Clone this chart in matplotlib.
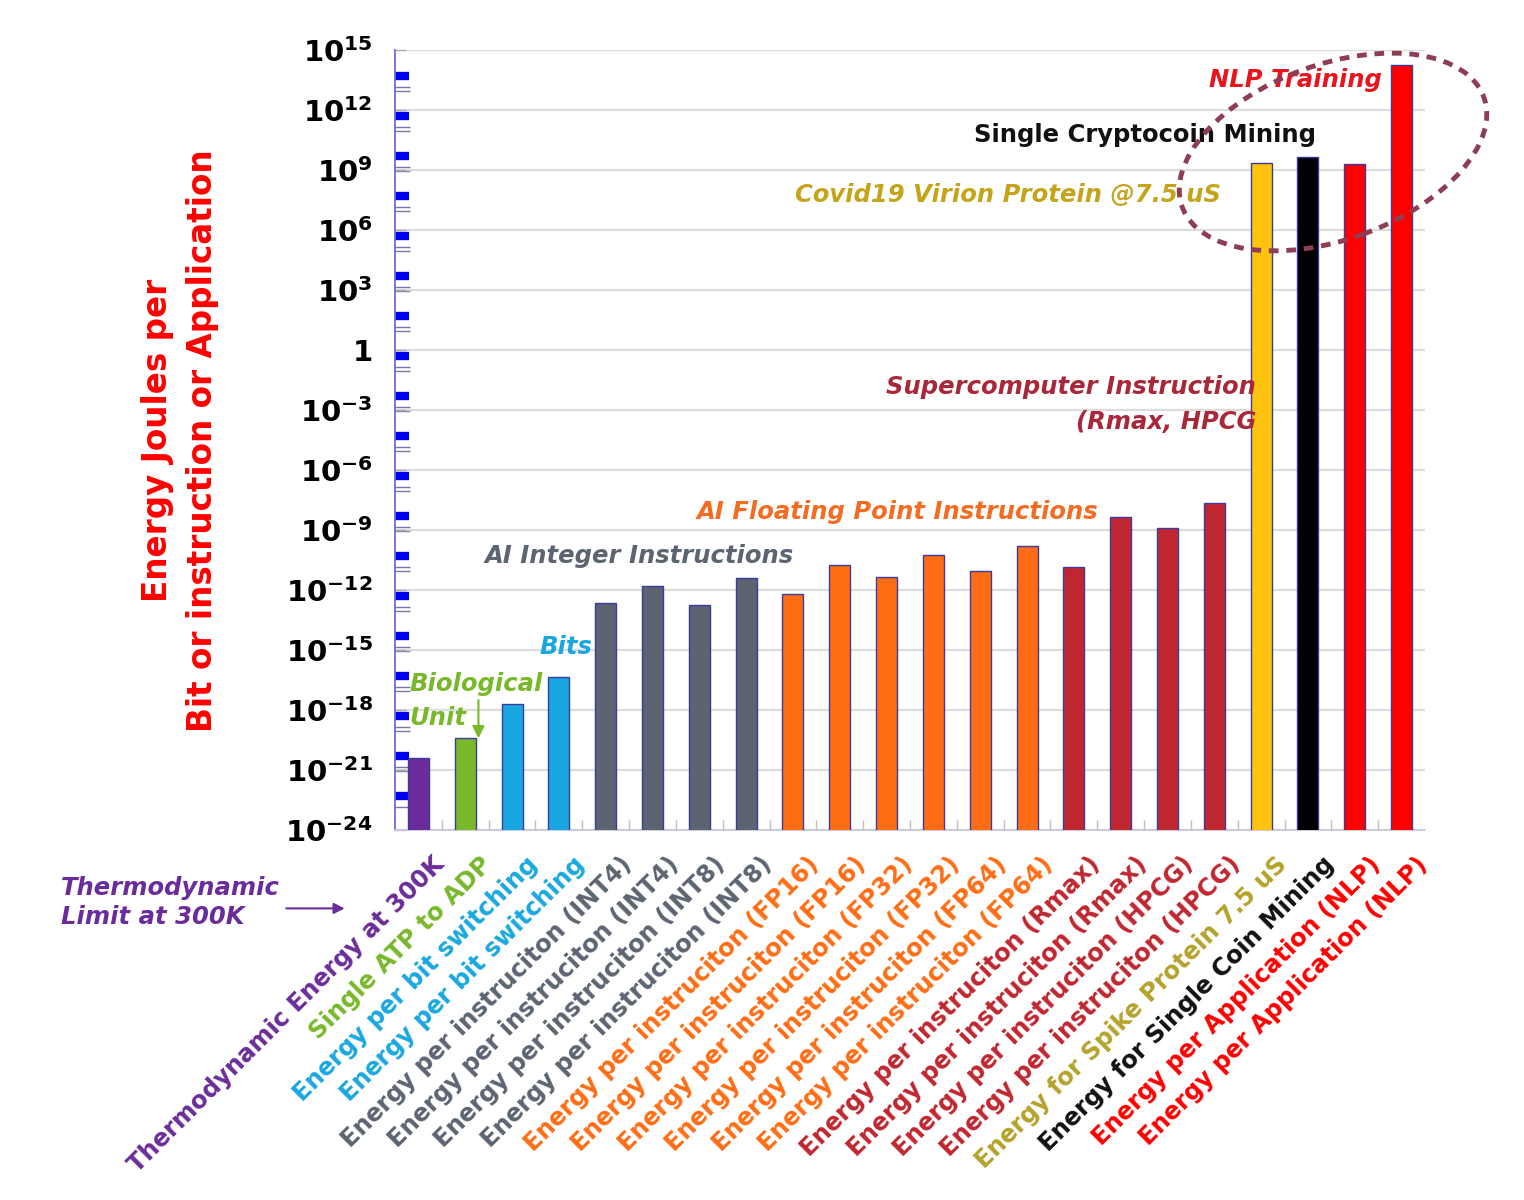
import matplotlib

matplotlib.use("Agg")

import matplotlib.pyplot as plt
import numpy as np
from matplotlib.patches import Ellipse, FancyArrowPatch
from matplotlib.transforms import ScaledTranslation

plt.rcParams["font.family"] = ["DejaVu Sans"]
plt.rcParams["mathtext.fontset"] = "dejavusans"

# bar data (Joules)
labels = [
    "Thermodynamic Energy at 300K",
    "Single ATP to ADP",
    "Energy per bit switching",
    "Energy per bit switching",
    "Energy per instruciton (INT4)",
    "Energy per instruciton (INT4)",
    "Energy per instruciton (INT8)",
    "Energy per instruciton (INT8)",
    "Energy per instruciton (FP16)",
    "Energy per instruciton (FP16)",
    "Energy per instruciton (FP32)",
    "Energy per instruciton (FP32)",
    "Energy per instruciton (FP64)",
    "Energy per instruciton (FP64)",
    "Energy per instruciton (Rmax)",
    "Energy per instruciton (Rmax)",
    "Energy per instruciton (HPCG)",
    "Energy per instruciton (HPCG)",
    "Energy for Spike Protein 7.5 uS",
    "Energy for Single Coin Mining",
    "Energy per Application (NLP)",
    "Energy per Application (NLP)",
]
energy = [
    4e-21, 4e-20, 2e-18, 4.5e-17,
    2.2e-13, 1.6e-12, 1.8e-13, 4e-12,
    6.3e-13, 1.8e-11, 4.5e-12, 5.6e-11, 9e-12, 1.6e-10,
    1.4e-11, 4.5e-9, 1.3e-9, 2.2e-8,
    2.2e9, 4.5e9, 2e9, 1.8e14,
]
groups = [
    "thermo", "bio", "bits", "bits",
    "int", "int", "int", "int",
    "fp", "fp", "fp", "fp", "fp", "fp",
    "super", "super", "super", "super",
    "covid", "coin", "nlp", "nlp",
]

bar_color = {
    "thermo": "#6a2c9a", "bio": "#78b82a", "bits": "#1aa7e0", "int": "#5b6470",
    "fp": "#ff6c14", "super": "#c0262f", "covid": "#ffc20e", "coin": "#000000",
    "nlp": "#ff0000",
}
text_color = dict(bar_color, covid="#b5a22a", coin="#111111")

fig = plt.figure(figsize=(15.24, 12), dpi=100)
ax = fig.add_axes([395 / 1524, 370 / 1200, 1030 / 1524, 780 / 1200])
ax.set_yscale("log")

x = np.arange(len(energy))
ax.bar(x, energy, width=0.45, color=[bar_color[g] for g in groups],
       edgecolor="#3b3b9e", linewidth=1, zorder=3)

ax.set_xlim(-0.5, len(energy) - 0.5)
ax.set_ylim(1e-24, 1e15)

# y axis: labels every 3 decades, odd Excel-ish minor marks
major = [10.0 ** e for e in range(-24, 16, 3)]
ax.set_yticks(major)
ax.set_yticklabels(["1" if v == 1 else r"$\mathbf{10^{%d}}$" % round(np.log10(v)) for v in major],
                   fontsize=21, fontweight="bold")
ax.set_yticks([10.0 ** e for e in np.arange(13.7, -23, -2)], minor=True)
ax.tick_params(axis="y", which="major", direction="in", length=8, width=1,
               color="#aaaaaa", pad=16)
ax.tick_params(axis="y", which="minor", direction="in", length=10, width=6,
               color="#0000ee")
sec = ax.secondary_yaxis("left")
sec.set_yticks([10.0 ** e for e in np.concatenate([np.arange(13.15, -23, -2),
                                                     np.arange(12.95, -23, -2)])])
sec.set_yticklabels([])
sec.tick_params(direction="in", length=11, width=1, color="#7777aa")
sec.spines["left"].set_visible(False)
sec.minorticks_off()

ax.grid(axis="y", which="major", color="#dcdcdc", linewidth=1.6, zorder=0)
ax.set_axisbelow(True)
for side in ("top", "right"):
    ax.spines[side].set_visible(False)
ax.spines["left"].set_color("#6c6cd8")
ax.spines["left"].set_linewidth(1.3)
ax.spines["bottom"].set_color("#c8c8dc")
ax.spines["bottom"].set_linewidth(1.3)

# x axis: rotated coloured category labels
ax.set_xticks(x)
ax.set_xticklabels(labels, rotation=45, ha="right", va="top",
                   rotation_mode="anchor", fontsize=17.5, fontweight="bold")
ax.set_xticks(x[:-1] + 0.5, minor=True)
ax.tick_params(axis="x", which="major", length=0, pad=16)
ax.tick_params(axis="x", which="minor", direction="in", length=7, width=1,
               color="#c0c0c0")
shift = ScaledTranslation(0.14, 0, fig.dpi_scale_trans)
for lab, g in zip(ax.get_xticklabels(), groups):
    lab.set_color(text_color[g])
    lab.set_transform(lab.get_transform() + shift)

# group annotations
fs = 17.5
note = dict(transform=ax.transAxes, fontsize=fs, fontweight="bold", style="italic")
ax.text(0.874, 0.962, "NLP Training", color="#e8141e", ha="center", va="center", **note)
ax.text(0.728, 0.891, "Single Cryptocoin Mining", color="#111111", ha="center",
        va="center", transform=ax.transAxes, fontsize=fs, fontweight="bold")
ax.text(0.595, 0.814, "Covid19 Virion Protein @7.5 uS", color="#c4a41a",
        ha="center", va="center", **note)
ax.text(0.836, 0.568, "Supercomputer Instruction", color="#a8283a",
        ha="right", va="center", **note)
ax.text(0.836, 0.523, "(Rmax, HPCG", color="#a8283a", ha="right", va="center", **note)
ax.text(0.488, 0.408, "AI Floating Point Instructions", color="#f36c21",
        ha="center", va="center", **note)
ax.text(0.237, 0.351, "AI Integer Instructions", color="#5b6470",
        ha="center", va="center", **note)
ax.text(0.166, 0.235, "Bits", color="#1aa7e0", ha="center", va="center", **note)
ax.text(0.014, 0.187, "Biological", color="#78b82a", ha="left", va="center", **note)
ax.text(0.014, 0.144, "Unit", color="#78b82a", ha="left", va="center", **note)
ax.annotate("", xy=(0.081, 0.114), xytext=(0.081, 0.17), xycoords="axes fraction",
            arrowprops=dict(arrowstyle="-|>", color="#78b82a", lw=1.5,
                            mutation_scale=18))

fig.text(0.04, 0.248, "Thermodynamic\nLimit at 300K", color="#6a2c9a", ha="left",
         va="center", fontsize=fs, fontweight="bold", style="italic", linespacing=1.3)
fig.patches.append(FancyArrowPatch(
    (0.186, 0.243), (0.228, 0.243), transform=fig.transFigure,
    arrowstyle="-|>", mutation_scale=16, color="#6a2c9a", lw=1.5))

fig.add_artist(Ellipse((13.33, 10.48), 3.21, 1.75, angle=20,
                       transform=fig.dpi_scale_trans, fill=False,
                       edgecolor="#8e3d52", linestyle=(0, (2, 1.6)), linewidth=3.5))

fig.text(0.118, 0.633, "Energy Joules per\nBit or instruction or Application",
         rotation=90, color="#ff0000", fontsize=23.5, fontweight="bold",
         ha="center", va="center", multialignment="center", linespacing=1.45)

fig.savefig("out.png", dpi=100, facecolor="white")
